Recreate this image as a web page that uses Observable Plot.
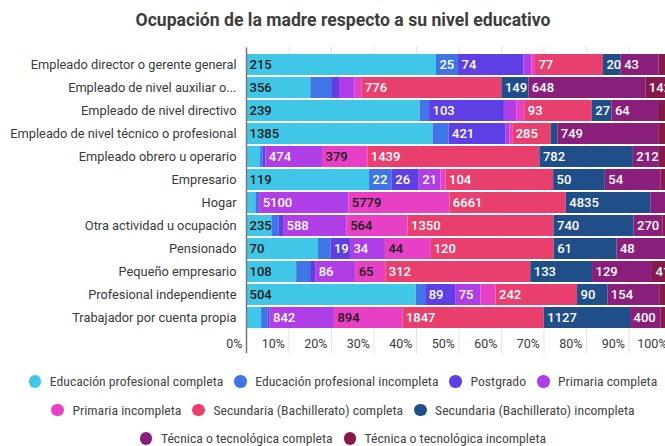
<!DOCTYPE html>
<html><head><meta charset="utf-8">
<script src="https://cdn.jsdelivr.net/npm/d3@7"></script>
<script src="https://cdn.jsdelivr.net/npm/@observablehq/plot@0.6"></script>
<style>
body{margin:0;background:#fff;overflow:hidden;width:665px;height:446px}
#wrap{width:686px;font-family:Roboto,sans-serif}
#title{height:39px;padding-top:1px;line-height:39px;text-align:center;font-weight:700;font-size:17.6px;color:#3d3d3d}
#legend{display:flex;flex-wrap:wrap;justify-content:center;padding:12px 4px 0 4px}
.item{display:flex;align-items:center;height:28.5px;margin:0 5.5px;font-family:Roboto,sans-serif;font-stretch:80%;font-size:13.7px;color:#444;white-space:nowrap}
.dot{width:12.5px;height:12.5px;border-radius:50%;margin-right:8.5px;flex:none}
</style>
</head><body>
<div id="wrap">
<div id="title">Ocupación de la madre respecto a su nivel educativo</div>
<div id="chart"></div>
<div id="legend"></div>
</div>
<script>
const categories = ["Empleado director o gerente general","Empleado de nivel auxiliar o...","Empleado de nivel directivo","Empleado de nivel técnico o profesional","Empleado obrero u operario","Empresario","Hogar","Otra actividad u ocupación","Pensionado","Pequeño empresario","Profesional independiente","Trabajador por cuenta propia"];
const series = ["Educación profesional completa","Educación profesional incompleta","Postgrado","Primaria completa","Primaria incompleta","Secundaria (Bachillerato) completa","Secundaria (Bachillerato) incompleta","Técnica o tecnológica completa","Técnica o tecnológica incompleta"];
const colors = ["#40c7e8","#4075e6","#5d3fe5","#b03ee6","#e840c5","#e83f6f","#1f4e89","#8a1e7b","#86194a"];
const darkLabelSeries = ["Educación profesional completa","Primaria incompleta"];

const eduProfCompleta   = [215, 356, 239, 1385, 118, 119, 534, 235, 70, 108, 504, 197];
const eduProfIncompleta = [25, 116, 13, 119, 22, 22, 160, 68, 12, 30, 28, 88];
const postgrado         = [74, 43, 103, 421, 22, 26, 60, 40, 19, 11, 89, 22];
const primariaCompleta  = [9, 87, 17, 30, 474, 21, 5100, 588, 34, 86, 75, 842];
const primariaIncompleta= [4, 37, 11, 22, 379, 5, 5779, 564, 44, 65, 45, 894];
const secundariaCompleta   = [77, 776, 93, 285, 1439, 104, 6661, 1350, 120, 312, 242, 1847];
const secundariaIncompleta = [20, 149, 27, 50, 782, 50, 4835, 740, 61, 133, 90, 1127];
const tecnicaCompleta   = [43, 648, 64, 749, 212, 54, 1000, 270, 48, 129, 154, 400];
const tecnicaIncompleta = [14, 142, 18, 95, 107, 10, 184, 77, 5, 41, 35, 135];

const tickValues = [0, 0.1, 0.2, 0.3, 0.4, 0.5, 0.6, 0.7, 0.8, 0.9, 1];
const tickLabels = ["0%","10%","20%","30%","40%","50%","60%","70%","80%","90%","100%"];

const seriesValues = [eduProfCompleta, eduProfIncompleta, postgrado, primariaCompleta, primariaIncompleta, secundariaCompleta, secundariaIncompleta, tecnicaCompleta, tecnicaIncompleta];

const W = 686, H = 315, ML = 246, MR = 15;
const plotW = W - ML - MR;
const totals = categories.map((c, i) => d3.sum(seriesValues, s => s[i]));
const data = [];
categories.forEach((c, i) => series.forEach((s, j) => data.push({cat: c, ser: s, value: seriesValues[j][i], total: totals[i]})));

// a label is drawn when the segment is wide enough for its digits
const fits = d => (d.value / d.total) * plotW >= String(d.value).length * 7.3 + 2;
const isDark = d => darkLabelSeries.includes(d.ser);

const labelOpts = {fontSize: 13, fontWeight: 500, textAnchor: "start", dx: 3};

const chart = Plot.plot({
  width: W, height: H,
  marginLeft: ML, marginRight: MR, marginTop: 9.4, marginBottom: 23.7,
  style: {fontFamily: "Roboto, sans-serif", fontSize: "12.8px", color: "#3a3a3a", background: "transparent"},
  x: {domain: [0, 1]},
  y: {domain: categories, padding: 0.1},
  color: {domain: series, range: colors},
  marks: [
    Plot.gridX(tickValues.slice(1), {stroke: "#e3e3e3", strokeOpacity: 1, insetTop: -3, insetBottom: -22}),
    Plot.barX(data, Plot.stackX({x: "value", y: "cat", fill: "ser", offset: "normalize", order: series})),
    Plot.text(data, Plot.stackX1({x: "value", y: "cat", z: "ser", offset: "normalize", order: series,
      text: d => (isDark(d) && fits(d)) ? String(d.value) : null, fill: "#1a1a1a", ...labelOpts})),
    Plot.text(data, Plot.stackX1({x: "value", y: "cat", z: "ser", offset: "normalize", order: series,
      text: d => (!isDark(d) && fits(d)) ? String(d.value) : null, fill: "#ffffff", ...labelOpts})),
    Plot.ruleX([0], {stroke: "#777", strokeWidth: 1.5, insetTop: -2, insetBottom: -22}),
    Plot.axisY({tickSize: 0, tickPadding: 10, fontSize: 12.8, label: null}),
    Plot.axisX({ticks: tickValues, tickFormat: (d, i) => tickLabels[i], tickSize: 0, tickPadding: 7, textAnchor: "end", dx: -4, fontSize: 12.5, label: null})
  ]
});
document.getElementById("chart").appendChild(chart);

const legend = document.getElementById("legend");
series.forEach((s, j) => {
  const it = document.createElement("div");
  it.className = "item";
  const dot = document.createElement("span");
  dot.className = "dot";
  dot.style.background = colors[j];
  const t = document.createElement("span");
  t.textContent = s;
  it.appendChild(dot); it.appendChild(t);
  legend.appendChild(it);
});
</script>
</body></html>
